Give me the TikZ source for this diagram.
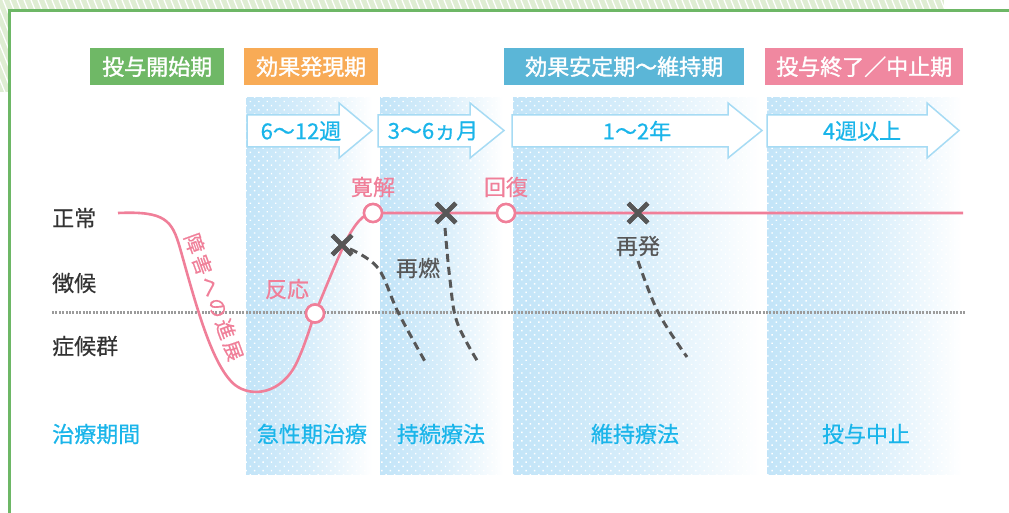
\documentclass[tikz,border=0pt]{standalone}
\usepackage{fontspec}
\newfontfamily\jp{Noto Sans CJK JP}
\newfontfamily\jpb[FakeBold=1.4]{Noto Sans CJK JP}
\newfontfamily\jpm[FakeBold=0.5]{Noto Sans CJK JP}
\newfontfamily\jpsp[LetterSpace=14,FakeBold=0.5]{Noto Sans CJK JP}
\usetikzlibrary{patterns.meta,shapes.misc}
\definecolor{frameg}{HTML}{6DB766}
\definecolor{hatchg}{HTML}{DFEDD3}
\definecolor{tagg}{HTML}{6FB866}
\definecolor{tago}{HTML}{F8AB56}
\definecolor{tagb}{HTML}{5BB6D7}
\definecolor{tagp}{HTML}{F088A0}
\definecolor{pinkc}{HTML}{F07F99}
\definecolor{cyant}{HTML}{1AB5EA}
\definecolor{arrowb}{HTML}{A6DBF4}
\definecolor{panelb}{HTML}{C2E4F8}
\definecolor{darkx}{HTML}{575757}
\definecolor{labelc}{HTML}{333333}
\definecolor{dotg}{HTML}{9B9B9B}
\begin{document}
\begin{tikzpicture}[x=1pt,y=-1pt,
  tagbox/.style={anchor=north west, minimum height=37, inner sep=0, text=white, font=\jpb\fontsize{22}{25}\selectfont},
  rowlab/.style={anchor=west, inner sep=0, text=labelc, font=\jpm\fontsize{22}{25}\selectfont},
  cyanlab/.style={inner sep=0, text=cyant, font=\jpm\fontsize{22}{25}\selectfont},
  pinklab/.style={inner sep=0, text=pinkc, font=\jpm\fontsize{22}{25}\selectfont},
  graylab/.style={inner sep=0, text=darkx, font=\jpm\fontsize{22}{25}\selectfont},
  arrowshape/.style={fill=white, draw=arrowb, line width=1.5, line join=miter},
  panelshade/.style={left color=panelb, right color=white, middle color=panelb!65!white},
  paneldots/.style={pattern={Dots[radius=1pt,distance=6pt,angle=45]}, pattern color=white},
  ringnode/.style={circle, draw=pinkc, fill=white, line width=2.5, minimum size=18, inner sep=0},
  crossnode/.style={cross out, draw=darkx, line width=4.5, minimum size=15, inner sep=0},
  dashline/.style={darkx, line width=3, dash pattern=on 8pt off 5pt},
  pinkline/.style={pinkc, line width=2.6}
]
\useasboundingbox (0,0) rectangle (1009,513);
\fill[white] (0,0) rectangle (1009,513);
% hatched corner band
\begin{scope}
  \clip (0,0) rectangle (944,11) (0,0) rectangle (9,92);
  \fill[hatchg] (0,0) rectangle (944,92);
  \foreach \i in {-60,-53,...,950} \draw[white, line width=1.3] (\i,0) -- ++(40,100);
\end{scope}
\draw[frameg, line width=3] (9,513) -- (9,11) -- (1010,11);

% panels
\shade[panelshade] (246,98) rectangle (372,474);
\fill[paneldots] (246,98) rectangle (372,474);
\shade[panelshade] (380,98) rectangle (503,474);
\fill[paneldots] (380,98) rectangle (503,474);
\shade[panelshade] (513,98) rectangle (760,474);
\fill[paneldots] (513,98) rectangle (760,474);
\shade[panelshade] (767,98) rectangle (962,474);
\fill[paneldots] (767,98) rectangle (962,474);

% tags
\node[tagbox, fill=tagg, minimum width=134] (t1) at (90,48) {投与開始期};
\node[tagbox, fill=tago, minimum width=134] (t2) at (244,48) {効果発現期};
\node[tagbox, fill=tagb, minimum width=240] (t3) at (504,48) {効果安定期～維持期};
\node[tagbox, fill=tagp, minimum width=198] (t4) at (765,48) {投与終了／中止期};

% duration arrows
\draw[arrowshape] (247,115) -- (339,115) -- (339,103) -- (372,130.5) -- (339,158) -- (339,147) -- (247,147) -- cycle;
\draw[arrowshape] (378,115) -- (470,115) -- (470,103) -- (504,130.5) -- (470,158) -- (470,147) -- (378,147) -- cycle;
\draw[arrowshape] (512,115) -- (728,115) -- (728,103) -- (762,130.5) -- (728,158) -- (728,147) -- (512,147) -- cycle;
\draw[arrowshape] (767,115) -- (927,115) -- (927,103) -- (959,130.5) -- (927,158) -- (927,147) -- (767,147) -- cycle;
\node[cyanlab] (d1) at (301,131) {6～12週};
\node[cyanlab] (d2) at (433,131) {3～6ヵ月};
\node[cyanlab] (d3) at (637,131) {1～2年};
\node[cyanlab] (d4) at (862,131) {4週以上};

% row labels
\node[rowlab] (r1) at (52,218) {正常};
\node[rowlab] (r2) at (52,283) {徴候};
\node[rowlab] (r3) at (52,346) {症候群};
\node[cyanlab, anchor=west] (r4) at (52,434) {治療期間};

% bottom labels
\node[cyanlab] (b1) at (312,434) {急性期治療};
\node[cyanlab] (b2) at (441,434) {持続療法};
\node[cyanlab] (b3) at (635,434) {維持療法};
\node[cyanlab] (b4) at (866,434) {投与中止};

% threshold dotted line
\coordinate (gl) at (52,312.5);
\coordinate (gr) at (965,312.5);
\draw[dotg, line width=2.2, dash pattern=on 2pt off 1.4pt] (gl) -- (gr);

% relapse dashed lines
\node[crossnode] (x1) at (342,245) {};
\node[crossnode] (x2) at (446,213) {};
\node[crossnode] (x3) at (638,213) {};
\draw[dashline] plot[smooth, tension=0.6] coordinates {(350,249) (378,268) (398,312) (427,365)};
\draw[dashline] plot[smooth, tension=0.6] coordinates {(445,228) (450,280) (457,322) (478,362)};
\draw[dashline] plot[smooth, tension=0.6] coordinates {(638,261) (658,312) (687,357)};

% main pink course
\coordinate (p0) at (118,213);
\coordinate (pend) at (963,213);
\node[ringnode] (c1) at (315,313.5) {};
\node[ringnode] (c2) at (373,213) {};
\node[ringnode] (c3) at (506,213) {};
\draw[pinkline] (p0) .. controls (165,211) and (172,220) .. (180,248)
  .. controls (196,305) and (212,366) .. (235,385)
  .. controls (252,398) and (282,394) .. (297,362)
  .. controls (305,345) and (310,327) .. (c1.center)
  .. controls (326,287) and (336,262) .. (345,243)
  .. controls (355,223) and (364,213) .. (c2.center) -- (pend);
\node[ringnode] at (c1) {};
\node[ringnode] at (c2) {};
\node[ringnode] at (c3) {};
\node[crossnode] at (x1) {};
\node[crossnode] at (x2) {};
\node[crossnode] at (x3) {};

% labels on the course
\node[pinklab] (l1) at (287,289) {反応};
\node[pinklab] (l2) at (373,187) {寛解};
\node[pinklab] (l3) at (506,187) {回復};
\node[graylab] (l4) at (418,268) {再燃};
\node[graylab] (l5) at (638,246) {再発};
\node[inner sep=0, text=pinkc, rotate=-70, font=\jpsp\fontsize{20}{23}\selectfont] (l6) at (214,297) {障害への進展};
\end{tikzpicture}
\end{document}
